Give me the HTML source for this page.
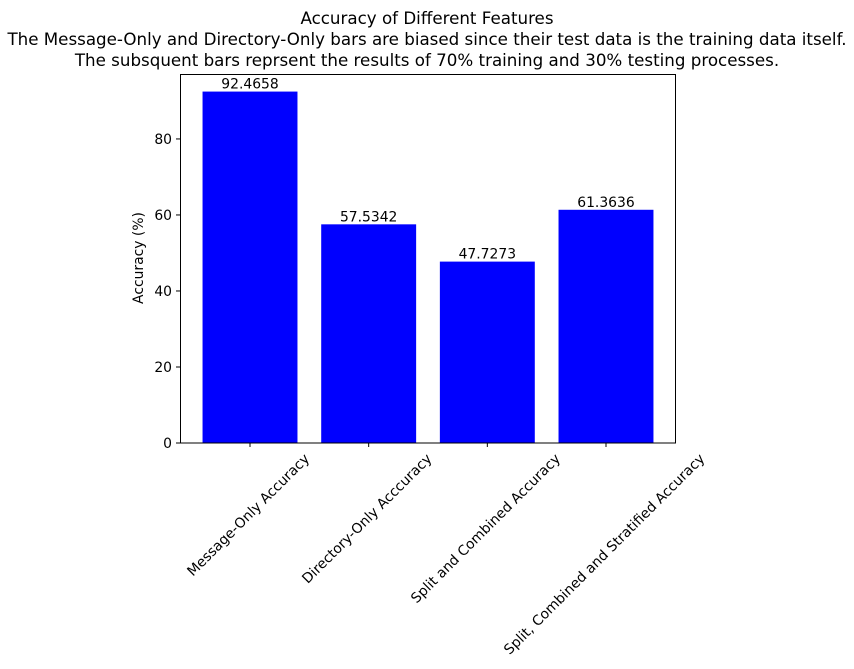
<!DOCTYPE html>
<html><head><meta charset="utf-8"><style>
html,body{margin:0;padding:0;background:#fff;}
svg{display:block;font-family:"DejaVu Sans","Liberation Sans",sans-serif;}
</style></head><body>
<svg id="chart" width="854" height="669" viewBox="0 0 854 669">
<g font-size="16.7" text-anchor="middle" fill="#000">
<text x="427" y="24">Accuracy of Different Features</text>
<text x="427" y="45">The Message-Only and Directory-Only bars are biased since their test data is the training data itself.</text>
<text x="427" y="66">The subsquent bars reprsent the results of 70% training and 30% testing processes.</text>
</g>
<g id="bars"></g>
<g id="yaxis"></g>
<g id="xaxis"></g>
<rect x="180.5" y="74.5" width="495" height="368.5" fill="none" stroke="#000" stroke-width="1"/>
<text x="143" y="258" font-size="13.9" text-anchor="middle" transform="rotate(-90 143 258)">Accuracy (%)</text>
</svg>
<script>
const categories = ["Message-Only Accuracy","Directory-Only Acccuracy","Split and Combined Accuracy","Split, Combined and Stratified Accuracy"];
const values = [92.4658, 57.5342, 47.7273, 61.3636];
const valueLabels = ["92.4658","57.5342","47.7273","61.3636"];
const yTicks = [0,20,40,60,80];

const NS="http://www.w3.org/2000/svg";
const L=180, R=676, T=74, B=443;
const ymax = Math.max(...values)*1.05;
const xmin=-0.59, xmax=categories.length-1+0.59;
const xs = v => L + (v-xmin)/(xmax-xmin)*(R-L);
const ys = v => B - v/ymax*(B-T);
function mk(tag, attrs, parent){const e=document.createElementNS(NS,tag);for(const k in attrs)e.setAttribute(k,attrs[k]);parent.appendChild(e);return e;}
const bars=document.getElementById('bars'), ya=document.getElementById('yaxis'), xa=document.getElementById('xaxis');
values.forEach((v,i)=>{
  const x0=xs(i-0.4), x1=xs(i+0.4);
  const r=mk('rect',{x:x0,y:ys(v),width:x1-x0,height:B-ys(v),fill:'#0000ff'},bars);
  
  
  const t=mk('text',{x:xs(i),y:ys(v)-3,'font-size':13.9,'text-anchor':'middle'},bars);
  t.textContent=valueLabels[i];
  
  
});
yTicks.forEach(v=>{
  const y=ys(v);
  const l=mk('line',{x1:L-4,x2:L,y1:y,y2:y,stroke:'#000'},ya);
  
  
  const t=mk('text',{x:L-8,y:y+5,'font-size':13.9,'text-anchor':'end'},ya);
  t.textContent=v;
  
  
});
categories.forEach((c,i)=>{
  const x=xs(i);
  const l=mk('line',{x1:x,x2:x,y1:B,y2:B+4,stroke:'#000'},xa);
  
  
  const t=mk('text',{'font-size':13.9,'text-anchor':'middle'},xa);
  t.textContent=c;
  
  
  const len=t.getComputedTextLength();
  const cy=B+8+(len+14)*0.7071/2;
  const cx=x-2;
  t.setAttribute('x',cx); t.setAttribute('y',cy+5);
  t.setAttribute('transform','rotate(-45 '+cx+' '+cy+')');
});
</script>
</body></html>
